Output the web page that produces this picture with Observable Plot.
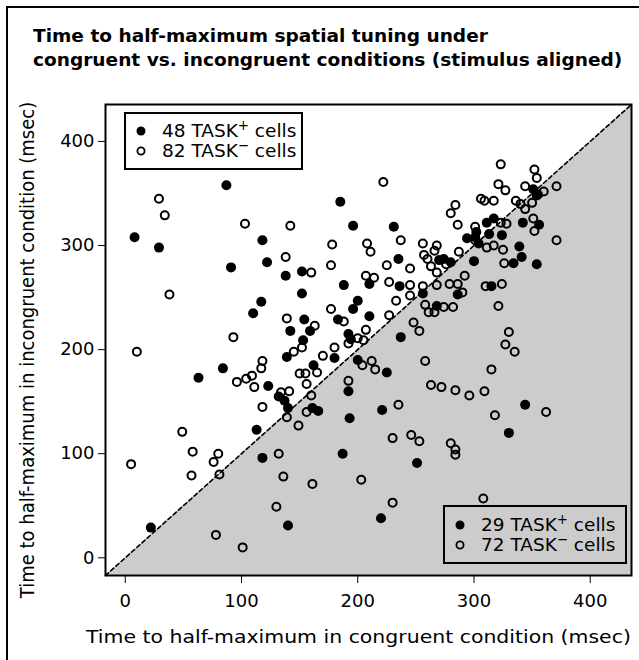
<!DOCTYPE html>
<html>
<head>
<meta charset="utf-8">
<script src="https://cdn.jsdelivr.net/npm/d3@7"></script>
<script src="https://cdn.jsdelivr.net/npm/@observablehq/plot@0.6"></script>
<style>
  html, body { margin: 0; padding: 0; background: #fff; overflow: hidden; }
  #wrap { position: relative; width: 639px; height: 660px; font-family: "DejaVu Sans", sans-serif; color: #000; }
  #border { position: absolute; left: 6px; top: 6px; width: 700px; height: 700px; border: 2px solid #000; pointer-events: none; }
  #title { position: absolute; left: 33px; top: 24px; font-weight: bold; font-size: 17.5px; line-height: 24px; white-space: nowrap; transform: scaleX(1.06); transform-origin: 0 0; }
  .lab { position: absolute; font-size: 18px; white-space: nowrap; }
  .legend { position: absolute; border: 2px solid #000; box-sizing: border-box; font-size: 18.5px; }
  .row { position: absolute; left: 0; height: 20px; line-height: 20px; white-space: nowrap; }
  .row svg { position: absolute; top: 4px; }
  .row span.t { position: absolute; }
  sup { font-size: 0.72em; line-height: 0; vertical-align: 0.55em; }
</style>
</head>
<body>
<div id="wrap">
  <div id="plot"></div>
  <div id="title">Time to half-maximum spatial tuning under<br>congruent vs. incongruent conditions (stimulus aligned)</div>
  <div class="lab" id="xlab" style="left:86px; top:626px; transform: scaleX(1.135); transform-origin: 0 0;">Time to half-maximum in congruent condition (msec)</div>
  <div class="lab" id="ylab" style="left:27px; top:350px; transform: translate(-50%,-50%) rotate(-90deg) scaleY(1.1);">Time to half-maximum in incongruent condition (msec)</div>
  <div class="legend" style="left:124px; top:112px; width:179px; height:58px;">
    <div class="row" style="top:7px;"><svg width="12" height="12" style="left:9px"><circle cx="6" cy="6" r="4.5" fill="#000"/></svg><span class="t" style="left:36px">48 TASK<sup>+</sup> cells</span></div>
    <div class="row" style="top:27px;"><svg width="12" height="12" style="left:9px"><circle cx="6" cy="6" r="3.6" fill="none" stroke="#000" stroke-width="1.8"/></svg><span class="t" style="left:36px">82 TASK<sup>−</sup> cells</span></div>
  </div>
  <div class="legend" style="left:443px; top:505px; width:184px; height:59px;">
    <div class="row" style="top:8px;"><svg width="12" height="12" style="left:9px"><circle cx="6" cy="6" r="4.5" fill="#000"/></svg><span class="t" style="left:36px">29 TASK<sup>+</sup> cells</span></div>
    <div class="row" style="top:28px;"><svg width="12" height="12" style="left:9px"><circle cx="6" cy="6" r="3.6" fill="none" stroke="#000" stroke-width="1.8"/></svg><span class="t" style="left:36px">72 TASK<sup>−</sup> cells</span></div>
  </div>
  <div id="border"></div>
</div>
<script>
// TASK+ cells above the diagonal (incongruent slower) [congruent, incongruent] in msec
const plusAbove = [[87,358],[8,308],[29,298],[118,305],[185,342],[196,319],[91,279],[122,284],[138,271],[152,275],[152,254],[117,246],[210,263],[188,262],[200,247],[196,239],[210,232],[154,229],[142,218],[159,218],[183,229],[192,215],[194,210],[153,209],[139,193],[180,192],[110,235],[84,182],[63,173],[123,165],[162,185],[132,155],[137,151],[140,144],[113,123],[22,29],[231,318],[235,287],[236,261],[270,286],[274,287],[280,284],[294,307],[301,308],[302,313],[311,322],[317,326],[351,354]];
// TASK+ cells below the diagonal
const plusBelow = [[256,254],[286,253],[300,285],[304,302],[313,311],[324,310],[355,349],[342,322],[356,320],[339,299],[341,289],[334,283],[354,282],[237,212],[225,178],[221,142],[192,160],[193,134],[166,141],[161,144],[187,100],[118,96],[251,91],[220,38],[140,31],[344,147],[330,120],[315,261],[268,242],[200,190]];
// TASK- cells above the diagonal
const minusAbove = [[29,345],[34,329],[103,321],[142,319],[178,301],[208,302],[211,294],[138,289],[160,274],[177,281],[207,271],[214,269],[227,265],[225,281],[177,239],[227,233],[139,230],[163,223],[188,227],[200,211],[205,209],[207,219],[192,206],[152,202],[145,198],[180,202],[170,194],[38,253],[93,212],[10,198],[118,189],[117,182],[96,169],[104,172],[109,175],[111,164],[150,177],[155,177],[156,167],[165,178],[141,160],[134,159],[118,145],[49,121],[58,102],[80,100],[76,92],[5,90],[57,79],[222,361],[323,378],[352,373],[354,365],[321,359],[327,353],[344,357],[306,345],[309,343],[317,343],[336,343],[340,340],[237,305],[245,278],[256,302],[268,300],[266,295],[257,291],[260,287],[263,280],[276,282],[268,274],[287,294],[284,339],[280,331],[286,320],[301,318],[301,305],[245,262],[245,252],[233,247],[256,261]];
// TASK- cells below the diagonal
const minusBelow = [[160,156],[192,170],[139,135],[132,100],[81,80],[360,352],[371,357],[354,348],[344,335],[350,341],[311,298],[317,300],[325,296],[326,283],[323,322],[328,321],[351,326],[352,314],[371,305],[292,271],[290,255],[279,263],[286,263],[310,261],[324,263],[321,242],[268,262],[258,243],[261,236],[266,236],[274,241],[282,241],[248,226],[253,218],[212,189],[215,181],[258,189],[330,217],[327,205],[335,198],[315,181],[263,166],[272,164],[284,161],[296,156],[309,160],[235,147],[362,140],[318,137],[230,115],[246,118],[253,112],[280,110],[284,104],[284,99],[230,53],[308,57],[203,75],[136,78],[161,71],[130,49],[78,22],[101,10],[156,140],[149,127],[204,185]];

const axisDomain = [-17, 435.5];
const tickValues = [0, 100, 200, 300, 400];

const filled = plusAbove.concat(plusBelow);
const open = minusAbove.concat(minusBelow);
const diag = axisDomain.map(v => ({v}));

const chart = Plot.plot({
  width: 639,
  height: 660,
  marginLeft: 105,
  marginRight: 8,
  marginTop: 104,
  marginBottom: 85,
  style: {fontFamily: "DejaVu Sans, sans-serif", fontSize: "18px", color: "#000", background: "transparent", overflow: "visible"},
  x: {domain: axisDomain, ticks: tickValues, tickSize: 8, tickPadding: 11, label: null},
  y: {domain: axisDomain, ticks: tickValues, tickSize: 7, tickPadding: 4, label: null},
  marks: [
    Plot.areaY(diag, {x: "v", y1: () => axisDomain[0], y2: "v", fill: "#cccccc"}),
    Plot.line(diag, {x: "v", y: "v", stroke: "#000", strokeWidth: 1.6, strokeDasharray: "4,3"}),
    Plot.dot(filled, {x: d => d[0], y: d => d[1], r: 5, fill: "#000", stroke: "none"}),
    Plot.dot(open, {x: d => d[0], y: d => d[1], r: 4, fill: "none", stroke: "#000", strokeWidth: 2}),
    Plot.frame({stroke: "#000", strokeWidth: 2})
  ]
});
document.getElementById("plot").appendChild(chart);
</script>
</body>
</html>
